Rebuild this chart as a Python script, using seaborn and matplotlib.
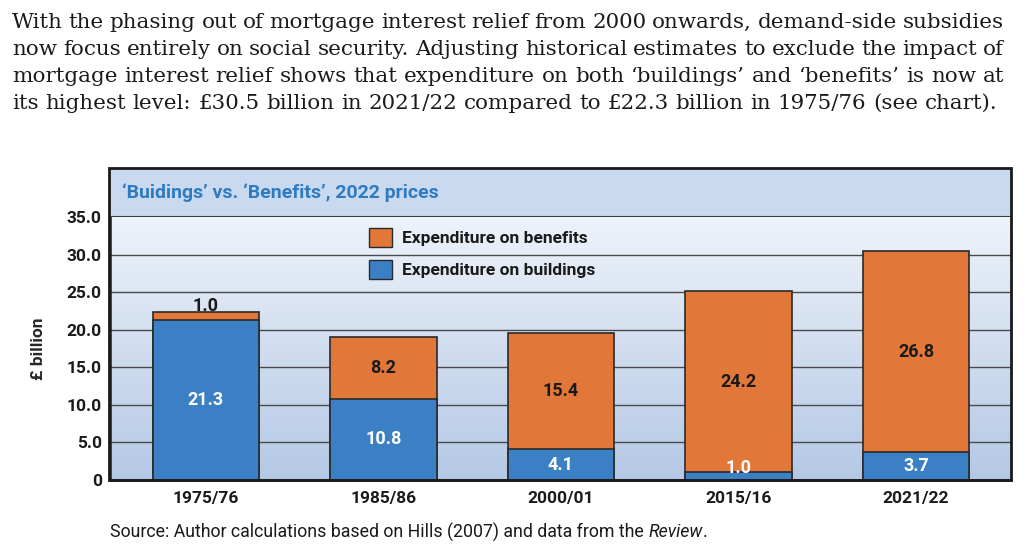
import numpy as np
import pandas as pd
import seaborn as sns
import matplotlib.pyplot as plt
from matplotlib.patches import Patch, Rectangle

# ------------------------------------------------------------
# Data
# ------------------------------------------------------------
years = ["1975/76", "1985/86", "2000/01", "2015/16", "2021/22"]
buildings = [21.3, 10.8, 4.1, 1.0, 3.7]
benefits = [1.0, 8.2, 15.4, 24.2, 26.8]
y_ticks = [0, 5, 10, 15, 20, 25, 30, 35]
y_tick_labels = ["0", "5.0", "10.0", "15.0", "20.0", "25.0", "30.0", "35.0"]

intro_lines = [
    "With the phasing out of mortgage interest relief from 2000 onwards, demand-side subsidies",
    "now focus entirely on social security. Adjusting historical estimates to exclude the impact of",
    "mortgage interest relief shows that expenditure on both \u2018buildings\u2019 and \u2018benefits\u2019 is now at",
    "its highest level: \u00a330.5 billion in 2021/22 compared to \u00a322.3 billion in 1975/76 (see chart).",
]

df = pd.DataFrame({"year": years, "buildings": buildings, "benefits": benefits})
df["total"] = df["buildings"] + df["benefits"]

BLUE = "#3b7fc4"
ORANGE = "#e2773a"
EDGE = "#2a2a2a"
SANS = ["Liberation Sans Narrow", "Roboto", "DejaVu Sans"]
SERIF = "DejaVu Serif"

sns.set_style("white")
plt.rcParams["font.family"] = SANS

W, H = 1036, 560
fig = plt.figure(figsize=(W / 100, H / 100), dpi=100)

def fx(px):
    return px / W

def fy(py):
    return 1 - py / H

# ------------------------------------------------------------
# Intro paragraph (justified by hand)
# ------------------------------------------------------------
renderer = fig.canvas.get_renderer()
left_px, right_px = 12, 1004

# size the serif so the last (unjustified) line ends near x=1002
probe = fig.text(0, 0, intro_lines[-1], family=SERIF, fontsize=14)
scale = (1002 - left_px) / probe.get_window_extent(renderer).width
probe.remove()
serif_size = 14 * scale

for i, line in enumerate(intro_lines):
    ypos = fy(28 + i * 27)
    words = line.split(" ")
    tmp = [fig.text(0, 0, w, family=SERIF, fontsize=serif_size) for w in words]
    widths = [t.get_window_extent(renderer).width for t in tmp]
    sp = fig.text(0, 0, "a a", family=SERIF, fontsize=serif_size)
    aa = fig.text(0, 0, "aa", family=SERIF, fontsize=serif_size)
    natural_gap = sp.get_window_extent(renderer).width - aa.get_window_extent(renderer).width
    for t in tmp + [sp, aa]:
        t.remove()
    last = i == len(intro_lines) - 1
    gap = natural_gap if last else (right_px - left_px - sum(widths)) / (len(words) - 1)
    x = left_px
    for w, wd in zip(words, widths):
        fig.text(fx(x), ypos, w, family=SERIF, fontsize=serif_size,
                 color="#1a1a1a", va="baseline", ha="left")
        x += wd + gap

# ------------------------------------------------------------
# Plot area
# ------------------------------------------------------------
ax = fig.add_axes([fx(110), fy(480), fx(901), 263 / H])
xmin, xmax = -0.54, 4.535
grad = np.linspace(0, 1, 256).reshape(-1, 1)
cmap = sns.blend_palette(["#b4c8e5", "#eef3fa"], as_cmap=True)
ax.imshow(grad, extent=[xmin, xmax, 0, 35], origin="lower", aspect="auto",
          cmap=cmap, zorder=0)
for yv in y_ticks[1:-1]:
    ax.axhline(yv, color="#4a4a4a", lw=1, zorder=1)

sns.barplot(data=df, x="year", y="total", color=ORANGE, width=0.6,
            edgecolor=EDGE, linewidth=1.2, saturation=1, ax=ax, zorder=2)
sns.barplot(data=df, x="year", y="buildings", color=BLUE, width=0.6,
            edgecolor=EDGE, linewidth=1.2, saturation=1, ax=ax, zorder=3)

ax.set_xlim(xmin, xmax)
ax.set_ylim(0, 35)
ax.set_yticks(y_ticks)
ax.set_yticklabels(y_tick_labels)
ax.tick_params(length=0, labelsize=12.5, pad=6)
for lab in ax.get_xticklabels() + ax.get_yticklabels():
    lab.set_fontweight("bold")
    lab.set_color("#1a1a1a")
ax.tick_params(axis="x", pad=8)
ax.set_xlabel("")
for s in ["top", "right"]:
    ax.spines[s].set_visible(False)
ax.spines["left"].set_color("#1a1a1a")
ax.spines["left"].set_linewidth(1.8)
ax.spines["bottom"].set_color("#1a1a1a")
ax.spines["bottom"].set_linewidth(1.8)

# value labels
for i, row in df.iterrows():
    b, e, t = row["buildings"], row["benefits"], row["total"]
    yb = max(b / 2, 1.6)
    ax.text(i, yb, f"{b:.1f}", ha="center", va="center", color="white",
            fontsize=13, fontweight="bold", zorder=5)
    if e < 2:
        ax.text(i, t - 0.3, f"{e:.1f}", ha="center", va="bottom", color="#1a1a1a",
                fontsize=13, fontweight="bold", zorder=5)
    else:
        ax.text(i, b + e / 2, f"{e:.1f}", ha="center", va="center", color="#1a1a1a",
                fontsize=13, fontweight="bold", zorder=5)

# legend
handles = [Patch(facecolor=ORANGE, edgecolor=EDGE, label="Expenditure on benefits"),
           Patch(facecolor=BLUE, edgecolor=EDGE, label="Expenditure on buildings")]
leg = ax.legend(handles=handles, loc="upper left", bbox_to_anchor=(0.28, 0.985),
                frameon=False, fontsize=12.5, handlelength=1.3, handleheight=1.3,
                labelspacing=0.75, handletextpad=0.6, borderaxespad=0)
for t in leg.get_texts():
    t.set_fontweight("bold")
    t.set_color("#1a1a1a")

ax.set_ylabel("\u00a3 billion", fontsize=12.5, fontweight="bold", labelpad=15)

# ------------------------------------------------------------
# Title band and frame
# ------------------------------------------------------------
band = fig.add_axes([fx(110), fy(217), fx(901), 49 / H])
band.set_facecolor("#c9d9ef")
band.set_xticks([])
band.set_yticks([])
for s in band.spines.values():
    s.set_visible(False)
band.axhline(0, color="#3a3a3a", lw=1.5)
band.text(12 / 901, 0.5, "\u2018Buidings\u2019 vs. \u2018Benefits\u2019, 2022 prices",
          transform=band.transAxes, va="center", ha="left", color="#2f7bc1",
          fontsize=14, fontweight="bold")

fig.patches.append(Rectangle((fx(109), fy(480)), fx(902), 312 / H, transform=fig.transFigure,
                             fill=False, edgecolor="#1a1a1a", lw=2, zorder=10))

# ------------------------------------------------------------
# Source note
# ------------------------------------------------------------
src_size = 12.8
src = fig.text(fx(110), fy(532), "Source: Author calculations based on Hills (2007) and data from the ",
               fontsize=src_size, color="#1a1a1a", va="center")
bb = src.get_window_extent(renderer)
rev = fig.text(bb.x1 / W, fy(532), "Review", fontsize=src_size, style="italic",
               color="#1a1a1a", va="center")
bb2 = rev.get_window_extent(renderer)
fig.text(bb2.x1 / W, fy(532), ".", fontsize=src_size, color="#1a1a1a", va="center")

fig.savefig("out.png", dpi=100)
